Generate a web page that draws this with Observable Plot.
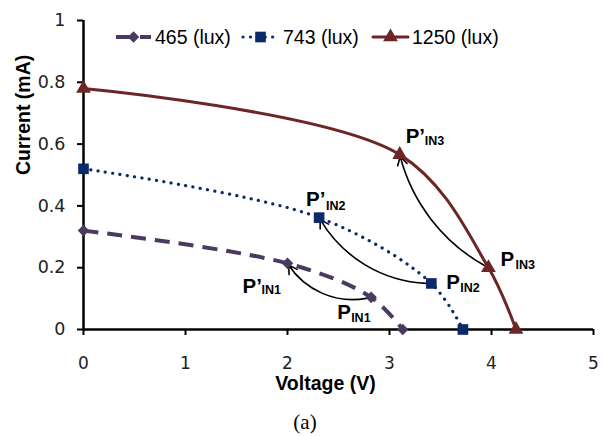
<!DOCTYPE html>
<html><head><meta charset="utf-8">
<script src="https://cdn.jsdelivr.net/npm/d3@7"></script>
<script src="https://cdn.jsdelivr.net/npm/@observablehq/plot@0.6"></script>
<style>
body{margin:0;background:#fff;}
#wrap{position:relative;width:604px;height:436px;overflow:hidden;}
#legend{position:absolute;left:0;top:0;}
#cap{position:absolute;left:0;top:411px;width:604px;text-align:center;font-family:"Liberation Serif","Times New Roman",serif;font-size:21px;line-height:22px;padding-left:6px;box-sizing:border-box;color:#000;}
</style></head><body>
<div id="wrap"><div id="chart"></div><div id="cap">(a)</div></div>
<script>
// ---- data ----
const seriesNames = ["465 (lux)", "743 (lux)", "1250 (lux)"];
const voltage465 = [0, 2.0, 2.82, 3.13];
const current465 = [0.32, 0.214, 0.104, 0];
const voltage743 = [0, 2.31, 3.41, 3.72];
const current743 = [0.52, 0.362, 0.149, 0];
const voltage1250 = [0, 3.10, 3.97, 4.24];
const current1250 = [0.78, 0.566, 0.20, 0];
const xTicks = [0, 1, 2, 3, 4, 5];
const yTicks = [0, 0.2, 0.4, 0.6, 0.8, 1];
const xTickLabels = ["0", "1", "2", "3", "4", "5"];
const yTickLabels = ["0", "0.2", "0.4", "0.6", "0.8", "1"];
const pinIndex = [2, 2, 2];        // index of P_IN point in each series
const pinPrimeIndex = [1, 1, 1];   // index of P'_IN point in each series
const pointSubs = ["IN1", "IN2", "IN3"];
const xLabel = "Voltage (V)";
const yLabel = "Current (mA)";

// ---- styles ----
const styles = [
  {color: "#4a3a60", width: 4, dash: "15,9", cap: "butt", symbol: "diamond2", r: 5.2},
  {color: "#0c2a6a", width: 3.2, dash: "0.1,7.3", cap: "round", symbol: "square", r: 6},
  {color: "#6d2626", width: 3, dash: null, cap: "round", symbol: "triangle", r: 5.5}
];
const volts = [voltage465, voltage743, voltage1250];
const amps = [current465, current743, current1250];
const series = seriesNames.map((name, s) => volts[s].map((v, i) => ({name, s, x: v, y: amps[s][i]})));

// label layout (pixel offsets from the point)
const bends = [36, 30, 24];
const labelLayout = [
  {prime: {dx: -45, dy: 23, sdx: -26, sdy: 27}, pin: {dx: -34, dy: 15, sdx: -20, sdy: 21}},
  {prime: {dx: -13, dy: -18, sdx: 7, sdy: -12}, pin: {dx: 15, dy: -1, sdx: 29, sdy: 5}},
  {prime: {dx: 6, dy: -18, sdx: 25, sdy: -14}, pin: {dx: 12, dy: -8, sdx: 27, sdy: -3}}
];

const marks = [];
// axis lines
marks.push(Plot.ruleY([0], {stroke: "black", strokeWidth: 2.5}));
marks.push(Plot.ruleX([0], {stroke: "black", strokeWidth: 2.5}));
marks.push(Plot.axisX({ticks: xTicks, tickFormat: d => xTickLabels[xTicks.indexOf(d)], tickSize: 6, tickPadding: 21,
  strokeWidth: 2, stroke: "black", fill: "#222", fontSize: 17, label: null}));
marks.push(Plot.axisY({ticks: yTicks, tickFormat: d => yTickLabels[yTicks.indexOf(d)], tickSize: 6, tickPadding: 12,
  strokeWidth: 2, stroke: "black", fill: "#222", fontSize: 17.5, label: null}));

// arrows
series.forEach((rows, s) => {
  const a = rows[pinIndex[s]], b = rows[pinPrimeIndex[s]];
  marks.push(Plot.arrow([{a, b}], {x1: d => d.a.x, y1: d => d.a.y, x2: d => d.b.x, y2: d => d.b.y,
    bend: bends[s], stroke: "black", strokeWidth: 1.6, headLength: 9, insetStart: 5, insetEnd: 2}));
});

// lines and markers
series.forEach((rows, s) => {
  const st = styles[s];
  marks.push(Plot.line(rows, {x: "x", y: "y", curve: "catmull-rom", stroke: st.color, strokeWidth: st.width,
    strokeDasharray: st.dash, strokeLinecap: st.cap}));
});
series.forEach((rows, s) => {
  const st = styles[s];
  marks.push(Plot.dot(rows, {x: "x", y: "y", symbol: () => st.symbol, r: st.r, fill: st.color, stroke: "none"}));
});

// point labels
const font = "Liberation Sans, Arial, sans-serif";
series.forEach((rows, s) => {
  const L = labelLayout[s];
  [["prime", pinPrimeIndex[s], "P\u2019"], ["pin", pinIndex[s], "P"]].forEach(([k, idx, main]) => {
    const pt = rows[idx], o = L[k];
    marks.push(Plot.text([pt], {x: "x", y: "y", text: () => main, dx: o.dx, dy: o.dy, textAnchor: "start",
      fontSize: 20.5, fontWeight: "bold", fontFamily: font, fill: "black"}));
    marks.push(Plot.text([pt], {x: "x", y: "y", text: () => pointSubs[s], dx: o.sdx, dy: o.sdy, textAnchor: "start",
      fontSize: 12.5, fontWeight: "bold", fontFamily: font, fill: "black"}));
  });
});

// axis titles
marks.push(Plot.text([yLabel], {text: d => d, frameAnchor: "left", dx: -60, rotate: -90, fontSize: 19.5,
  fontWeight: "bold", fontFamily: font, fill: "black"}));
marks.push(Plot.text([xLabel], {text: d => d, frameAnchor: "bottom", dx: -13, dy: 60, fontSize: 19.5,
  fontWeight: "bold", fontFamily: font, fill: "black"}));

const chart = Plot.plot({
  width: 604, height: 404,
  marginLeft: 83, marginRight: 11, marginTop: 20, marginBottom: 75,
  x: {domain: [0, 5]},
  y: {domain: [0, 1]},
  style: {fontFamily: "DejaVu Sans, sans-serif", fontSize: "17.5px", background: "white", color: "black"},
  marks
});
document.getElementById("chart").appendChild(chart);

// legend overlay
const legendX = [{line: 116, text: 155}, {line: 243, text: 283}, {line: 373, text: 412}];
const symbolTypes = {diamond2: d3.symbolDiamond2, square: d3.symbolSquare, triangle: d3.symbolTriangle};
const lg = d3.select("#wrap").append("svg").attr("id", "legend").attr("width", 604).attr("height", 60);
seriesNames.forEach((name, s) => {
  const st = styles[s], p = legendX[s], cy = 37;
  lg.append("line").attr("x1", p.line).attr("x2", p.line + 35).attr("y1", cy).attr("y2", cy)
    .attr("stroke", st.color).attr("stroke-width", st.width)
    .attr("stroke-dasharray", st.dash).attr("stroke-linecap", st.cap);
  lg.append("path").attr("transform", `translate(${p.line + 17.5},${cy})`)
    .attr("d", d3.symbol(symbolTypes[st.symbol], Math.PI * st.r * st.r)()).attr("fill", st.color);
  lg.append("text").attr("x", p.text).attr("y", cy).attr("dy", "0.35em")
    .attr("font-family", font).attr("font-size", 19.5).attr("fill", "black").text(name);
});
</script>
</body></html>
